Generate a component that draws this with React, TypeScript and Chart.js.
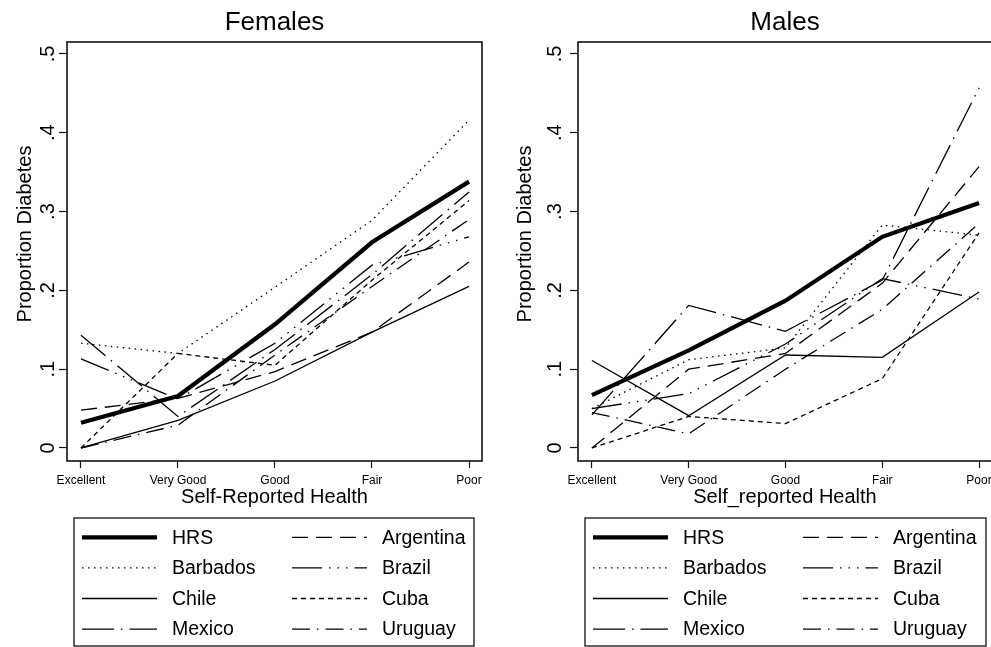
import React, { useEffect, useRef } from "react";
import { Chart, registerables } from "chart.js";

Chart.register(...registerables);

const FONT = '"Liberation Sans", Arial, Helvetica, sans-serif';
Chart.defaults.font.family = FONT;
Chart.defaults.color = "#000";

// ---------- data ----------
const categories = ["Excellent", "Very Good", "Good", "Fair", "Poor"];
const yTickValues = [0, 0.1, 0.2, 0.3, 0.4, 0.5];
const yTickLabels = ["0", ".1", ".2", ".3", ".4", ".5"];
const seriesNames = ["HRS", "Argentina", "Barbados", "Brazil", "Chile", "Cuba", "Mexico", "Uruguay"];

const femalesHRS = [0.032, 0.066, 0.157, 0.261, 0.338];
const femalesArgentina = [0.048, 0.063, 0.097, 0.147, 0.236];
const femalesBarbados = [0.133, 0.12, 0.204, 0.289, 0.416];
const femalesBrazil = [0.113, 0.062, 0.133, 0.232, 0.268];
const femalesChile = [0, 0.035, 0.085, 0.147, 0.205];
const femalesCuba = [0, 0.12, 0.105, 0.213, 0.314];
const femalesMexico = [0.143, 0.04, 0.125, 0.22, 0.325];
const femalesUruguay = [0, 0.029, 0.118, 0.205, 0.29];

const malesHRS = [0.067, 0.124, 0.187, 0.268, 0.311];
const malesArgentina = [0, 0.1, 0.12, 0.209, 0.357];
const malesBarbados = [0.05, 0.112, 0.127, 0.283, 0.27];
const malesBrazil = [0.05, 0.069, 0.132, 0.215, 0.189];
const malesChile = [0.111, 0.041, 0.118, 0.115, 0.198];
const malesCuba = [0, 0.04, 0.031, 0.088, 0.273];
const malesMexico = [0.042, 0.181, 0.148, 0.213, 0.457];
const malesUruguay = [0.045, 0.018, 0.1, 0.176, 0.285];

const femalesSeries = [femalesHRS, femalesArgentina, femalesBarbados, femalesBrazil, femalesChile, femalesCuba, femalesMexico, femalesUruguay];
const malesSeries = [malesHRS, malesArgentina, malesBarbados, malesBrazil, malesChile, malesCuba, malesMexico, malesUruguay];

// ---------- styles ----------
const dashes: Record<string, number[]> = {
  HRS: [],
  Argentina: [16, 8],
  Barbados: [1.5, 4.5],
  Brazil: [30, 7, 1.5, 7, 1.5, 7, 1.5, 7],
  Chile: [],
  Cuba: [5, 4],
  Mexico: [32, 7, 1.5, 7],
  Uruguay: [18, 7, 1.5, 7],
};

const framePlugin = {
  id: "frame",
  afterDraw(chart: any, _args: any, opts: any) {
    const { ctx, chartArea: a } = chart;
    ctx.save();
    ctx.strokeStyle = "#111";
    ctx.lineWidth = 1.6;
    ctx.setLineDash([]);
    ctx.strokeRect(a.left, a.top, a.right - a.left, a.bottom - a.top);
    ctx.restore();

    // y-axis title
    ctx.save();
    ctx.translate(opts.yTitleX, opts.yTitleY);
    ctx.rotate(-Math.PI / 2);
    ctx.font = `20px ${FONT}`;
    ctx.fillStyle = "#000";
    ctx.textAlign = "center";
    ctx.textBaseline = "middle";
    ctx.fillText(opts.yTitle, 0, 0);
    ctx.restore();

    // legend
    const L = opts.legend;
    ctx.save();
    ctx.strokeStyle = "#111";
    ctx.lineWidth = 1.3;
    ctx.strokeRect(L.left, L.top, L.width, L.height);
    chart.data.datasets.forEach((ds: any, k: number) => {
      const col = k % 2;
      const row = Math.floor(k / 2);
      const y = L.top + 19.3 + row * 30.6;
      const x0 = L.left + (col ? 218 : 8);
      const x1 = x0 + 75;
      const tx = L.left + (col ? 308 : 98);
      ctx.beginPath();
      ctx.setLineDash(ds.borderDash || []);
      ctx.lineWidth = ds.borderWidth;
      ctx.strokeStyle = "#000";
      ctx.lineCap = "butt";
      ctx.moveTo(x0, y);
      ctx.lineTo(x1, y);
      ctx.stroke();
      ctx.setLineDash([]);
      ctx.font = `19.5px ${FONT}`;
      ctx.fillStyle = "#000";
      ctx.textAlign = "left";
      ctx.textBaseline = "middle";
      ctx.fillText(ds.label, tx, y + 1);
    });
    ctx.restore();
  },
};

type PanelProps = {
  title: string;
  xTitle: string;
  series: number[][];
  width: number;
  yAxisWidth: number;
  yTickPadding: number;
  yTitleX: number;
  legendLeft: number;
  legendWidth: number;
};

function Panel(p: PanelProps) {
  const ref = useRef<HTMLCanvasElement | null>(null);
  useEffect(() => {
    if (!ref.current) return;
    const datasets = seriesNames.map((name, i) => ({
      label: name,
      data: p.series[i].map((v, j) => ({ x: j + 1, y: v })),
      borderColor: "#000",
      backgroundColor: "#000",
      borderWidth: name === "HRS" ? 4.2 : 1.3,
      borderDash: dashes[name],
      pointRadius: 0,
      tension: 0,
      fill: false,
    }));
    const chart = new Chart(ref.current, {
      type: "line",
      data: { datasets },
      plugins: [framePlugin],
      options: {
        responsive: false,
        animation: false,
        layout: { padding: { left: 0, top: 0, right: 13, bottom: 131 } },
        plugins: {
          legend: { display: false },
          tooltip: { enabled: false },
          title: {
            display: true,
            text: p.title,
            fullSize: false,
            font: { size: 26, weight: "normal", family: FONT },
            color: "#000",
            padding: { top: 7.4, bottom: 3.4 },
          },
          frame: {
            yTitle: "Proportion Diabetes",
            yTitleX: p.yTitleX,
            yTitleY: 234,
            legend: { left: p.legendLeft, top: 518, width: p.legendWidth, height: 128 },
          },
        } as any,
        scales: {
          x: {
            type: "linear",
            position: "bottom",
            min: 0.856,
            max: 5.134,
            afterBuildTicks: (s: any) => {
              s.ticks = categories.map((_, i) => ({ value: i + 1 }));
            },
            afterFit: (s: any) => {
              s.height = 55;
            },
            grid: { drawOnChartArea: false, drawTicks: true, tickLength: 7, tickColor: "#111", tickWidth: 1.2 },
            border: { display: false },
            ticks: {
              autoSkip: false,
              minRotation: 0,
              maxRotation: 0,
              padding: 5,
              font: { size: 12 },
              color: "#000",
              callback: (_v: any, i: number) => categories[i],
            },
            title: {
              display: true,
              text: p.xTitle,
              font: { size: 20 },
              color: "#000",
              padding: { top: 0, bottom: 7 },
            },
          },
          y: {
            type: "linear",
            position: "left",
            min: -0.0165,
            max: 0.5152,
            afterBuildTicks: (s: any) => {
              s.ticks = yTickValues.map((v) => ({ value: v }));
            },
            afterFit: (s: any) => {
              s.width = p.yAxisWidth;
            },
            grid: { drawOnChartArea: false, drawTicks: true, tickLength: 8, tickColor: "#111", tickWidth: 1.2 },
            border: { display: false },
            ticks: {
              autoSkip: false,
              minRotation: 90,
              maxRotation: 90,
              crossAlign: "center",
              padding: p.yTickPadding,
              font: { size: 20 },
              color: "#000",
              callback: (_v: any, i: number) => yTickLabels[i],
            },
          },
        },
      } as any,
    });
    return () => chart.destroy();
  }, []);
  return (
    <canvas
      ref={ref}
      width={p.width}
      height={647}
      style={{ width: p.width, height: 647, display: "block" }}
    />
  );
}

export default function App() {
  return (
    <div
      style={{
        position: "absolute",
        left: 0,
        top: 0,
        width: 991,
        height: 647,
        overflow: "hidden",
        background: "#fff",
      }}
    >
      <div style={{ position: "absolute", left: 0, top: 0 }}>
        <Panel
          title="Females"
          xTitle="Self-Reported Health"
          series={femalesSeries}
          width={495}
          yAxisWidth={67}
          yTickPadding={2.5}
          yTitleX={25}
          legendLeft={74}
          legendWidth={400}
        />
      </div>
      <div style={{ position: "absolute", left: 495, top: 0 }}>
        <Panel
          title="Males"
          xTitle="Self_reported Health"
          series={malesSeries}
          width={510}
          yAxisWidth={83}
          yTickPadding={6}
          yTitleX={30}
          legendLeft={90}
          legendWidth={401}
        />
      </div>
    </div>
  );
}
